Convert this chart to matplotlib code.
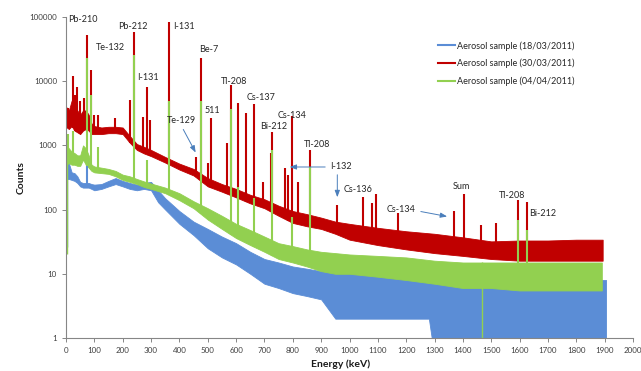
import numpy as np
import matplotlib
matplotlib.use("Agg")
import matplotlib.pyplot as plt
from matplotlib.ticker import FixedLocator, NullLocator

# %% Data

# 18/03/2011 - envelope of the noisy spectrum (low / high counts)
blue_e = [3, 10, 20, 30, 40, 50, 60, 70, 80, 90, 100, 125, 150, 175, 200, 225, 250, 275, 300,
          325, 350, 400, 450, 500, 550, 600, 650, 700, 750, 800, 850, 900, 950, 1000, 1100,
          1200, 1280, 1290, 1400, 1500, 1600, 1700, 1800, 1905]
blue_lo = [300, 300, 290, 280, 260, 230, 220, 220, 220, 210, 200, 210, 230, 250, 230, 210, 200, 210, 200,
           130, 100, 60, 40, 25, 18, 14, 10, 7, 6, 5, 4.5, 4, 2, 2, 2,
           2, 2, 1, 1, 1, 1, 1, 1, 1]
blue_hi = [530, 530, 380, 370, 330, 270, 260, 260, 260, 250, 245, 250, 280, 310, 280, 260, 245, 260, 270,
           200, 150, 95, 65, 50, 38, 30, 22, 17, 15, 13, 12, 11, 11, 11, 10,
           10, 9, 9, 8, 8, 8, 8, 8, 8]
blue_pk_e = [75]
blue_pk_h = [590]
blue_dip_e = [3]
blue_dip_h = [26]

# 30/03/2011
red_e = [3, 10, 20, 30, 40, 50, 60, 70, 80, 90, 100, 125, 150, 175, 200, 225, 250, 275, 300,
         350, 400, 450, 500, 550, 600, 650, 700, 750, 800, 850, 900, 950, 1000, 1100, 1200,
         1300, 1400, 1500, 1600, 1700, 1800, 1893]
red_lo = [1900, 1800, 2000, 1700, 1600, 1500, 1700, 1800, 1700, 1500, 1500, 1500, 1550, 1550, 1500, 1100, 850, 750, 680,
          540, 420, 340, 230, 190, 155, 125, 105, 80, 62, 55, 50, 42, 34, 28, 24,
          21, 19, 17, 16, 16, 16, 16]
red_hi = [3900, 3500, 5000, 4000, 3500, 3000, 3500, 3500, 3000, 2200, 2000, 1900, 1950, 1950, 1900, 1400, 1050, 950, 850,
          660, 520, 430, 310, 250, 210, 170, 145, 115, 95, 85, 75, 65, 60, 52, 46,
          42, 37, 32, 33, 33, 34, 34]
red_pk_e = [7, 25, 32, 39, 49, 63, 75, 87, 99, 113, 173, 226, 239, 272, 284, 296, 364, 459, 477,
            501, 511, 567, 583, 605, 636, 662, 694, 723, 727, 772, 784, 796, 817, 860, 955,
            1048, 1078, 1093, 1170, 1369, 1404, 1463, 1516, 1595, 1625]
red_pk_h = [3800, 12000, 6000, 8000, 5000, 5500, 52000, 15000, 3000, 3000, 2700, 5100, 58000, 2800, 8200, 2500, 83000, 650, 23000,
            530, 2700, 1100, 8700, 4600, 3200, 4400, 270, 760, 1600, 440, 350, 2900, 270, 850, 118,
            158, 127, 175, 88, 95, 175, 57, 62, 140, 130]

# 04/04/2011
green_e = [3, 10, 20, 30, 40, 50, 60, 70, 80, 90, 100, 125, 150, 175, 200, 225, 250, 275, 300,
           350, 400, 450, 500, 550, 600, 650, 700, 750, 800, 850, 900, 950, 1000, 1100, 1200,
           1300, 1400, 1500, 1600, 1700, 1800, 1890]
green_lo = [500, 530, 500, 500, 480, 480, 600, 500, 450, 400, 380, 370, 360, 330, 290, 270, 250, 225, 210,
            180, 140, 105, 70, 50, 36, 28, 22, 17, 15, 13, 11, 10, 10, 9, 8,
            7, 6, 6, 5.5, 5.5, 5.5, 5.5]
green_hi = [1000, 900, 800, 760, 700, 700, 1000, 900, 700, 500, 470, 450, 430, 400, 350, 330, 300, 275, 255,
            220, 180, 135, 105, 80, 60, 48, 38, 30, 27, 24, 22, 21, 20, 19, 18,
            16, 15, 15, 15, 15, 15, 15]
green_pk_e = [7, 25, 75, 87, 113, 239, 284, 364, 477, 583, 605, 662, 727, 796, 860, 1595, 1625]
green_pk_h = [1500, 1700, 23000, 6000, 940, 26000, 600, 5000, 5000, 3700, 225, 150, 850, 77, 460, 69, 48]
green_dip_e = [3, 1468]
green_dip_h = [20, 1]

series_labels = ["Aerosol sample (18/03/2011)", "Aerosol sample (30/03/2011)", "Aerosol sample (04/04/2011)"]
colors = ["#5B8DD6", "#C00000", "#92D050"]

# nuclide labels: text, energy (keV), counts
labels = [("Pb-210", 7, 89800), ("Te-132", 106, 32900), ("Pb-212", 183, 72400),
          ("I-131", 377, 72400), ("I-131", 250, 11600), ("Be-7", 469, 31700),
          ("511", 490, 3440), ("Tl-208", 547, 10070), ("Cs-137", 638, 5670),
          ("Bi-212", 684, 1935), ("Cs-134", 748, 2975), ("Tl-208", 840, 1015),
          ("Cs-136", 981, 209), ("Sum", 1365, 233), ("Tl-208", 1527, 163),
          ("Bi-212", 1633, 88.5)]
arrow_labels = [("Te-129", (356, 2400), (409, 1935), (462, 709)),
                ("I-132", (931, 461), (924, 461), (779, 461)),
                ("", (957, 385), (957, 385), (957, 141)),
                ("Cs-134", (1132, 102), (1242, 95), (1354, 76.7))]

xticks = list(range(0, 2001, 100))
yticks = [1, 10, 100, 1000, 10000, 100000]

# %% Plot
plt.rcParams["font.family"] = ["Lato", "DejaVu Sans"]
fig = plt.figure(figsize=(6.41, 3.71), dpi=100)
ax = fig.add_axes([66 / 641, 33 / 371, 567 / 641, 321 / 371])
ax.set_yscale("log")


def draw_series(e, lo, hi, pk_e, pk_h, color, label, dip_e=(), dip_h=()):
    ax.fill_between(e, lo, hi, color=color, lw=0.6, edgecolor=color)
    ax.plot([], [], color=color, lw=1.5, label=label)
    base = np.exp(np.interp(pk_e, e, np.log(lo)))
    ax.vlines(pk_e, base, pk_h, color=color, lw=1.5)
    if len(dip_e):
        top = np.exp(np.interp(dip_e, e, np.log(hi)))
        ax.vlines(dip_e, dip_h, top, color=color, lw=1.0)


draw_series(blue_e, blue_lo, blue_hi, blue_pk_e, blue_pk_h, colors[0], series_labels[0], blue_dip_e, blue_dip_h)
draw_series(red_e, red_lo, red_hi, red_pk_e, red_pk_h, colors[1], series_labels[1])
draw_series(green_e, green_lo, green_hi, green_pk_e, green_pk_h, colors[2], series_labels[2], green_dip_e, green_dip_h)

for txt, x, y in labels:
    ax.text(x, y, txt, fontsize=6.5, color="#262626", va="center", ha="left")

for txt, tpos, start, end in arrow_labels:
    if txt:
        ax.text(tpos[0], tpos[1], txt, fontsize=6.5, color="#262626", va="center", ha="left")
    ax.annotate("", xy=end, xytext=start,
                arrowprops=dict(arrowstyle="-|>,head_length=0.4,head_width=0.15", color="#4A7EBB", lw=0.7))

ax.set_xlim(0, 2000)
ax.set_ylim(1, 100000)
ax.xaxis.set_major_locator(FixedLocator(xticks))
ax.set_xticklabels([str(t) for t in xticks])
ax.yaxis.set_major_locator(FixedLocator(yticks))
ax.yaxis.set_minor_locator(NullLocator())
ax.set_yticklabels([str(t) for t in yticks])
ax.tick_params(axis="both", labelsize=5.8, labelcolor="#404040", color="#868686", length=3, width=0.7)
for s in ["top", "right"]:
    ax.spines[s].set_visible(False)
for s in ["left", "bottom"]:
    ax.spines[s].set_color("#868686")
    ax.spines[s].set_linewidth(0.8)

fig.text(21 / 641, 1 - 178 / 371, "Counts", rotation=90, fontsize=7.5, fontweight="bold",
         ha="center", va="center", color="#1a1a1a")
fig.text(341 / 641, 1 - 364 / 371, "Energy (keV)", fontsize=7.5, fontweight="bold",
         ha="center", va="center", color="#1a1a1a")

ax.legend(loc="upper left", bbox_to_anchor=(438 / 641, 1 - 41 / 371), bbox_transform=fig.transFigure,
          frameon=False, fontsize=6.5, handlelength=1.9, handletextpad=0.15, labelspacing=0.9,
          borderpad=0, borderaxespad=0, labelcolor="#262626")

fig.savefig("out.png", dpi=100)
